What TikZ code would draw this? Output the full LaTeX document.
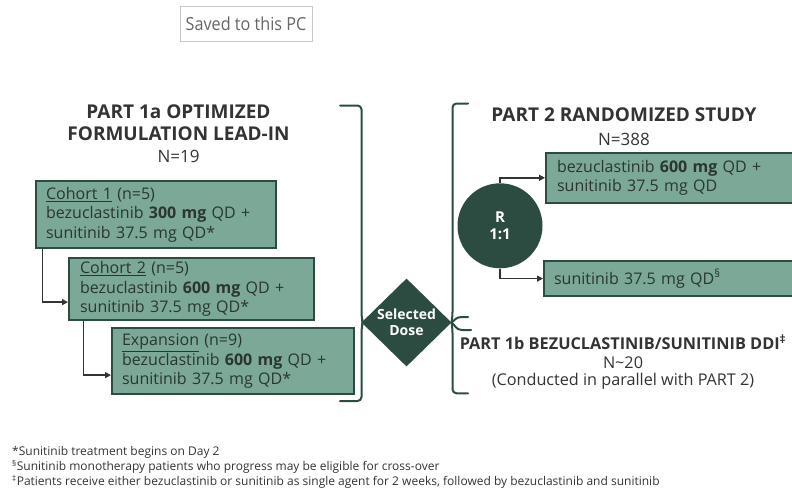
\documentclass[tikz,border=0pt]{standalone}
\usepackage{fontspec}
\setmainfont{Open Sans}
\newfontfamily\tabfont[FakeStretch=0.9]{Open Sans}
\usetikzlibrary{arrows.meta,shapes.geometric,calc}
\definecolor{dkg}{HTML}{2C4C41}
\definecolor{boxg}{HTML}{7BA897}
\definecolor{txt}{HTML}{2B3631}
\definecolor{ttl}{HTML}{333333}
\begin{document}
\begin{tikzpicture}[x=1pt,y=-1pt,
  armbox/.style={draw=dkg, line width=2.2pt, fill=boxg, text=txt, align=left,
    font=\fontsize{16}{19.5}\selectfont, inner xsep=0pt, inner ysep=0pt, anchor=north west},
  ttlnode/.style={text=ttl, font=\fontsize{19}{21}\selectfont\bfseries, anchor=base, inner sep=0pt},
  subnode/.style={text=ttl, font=\fontsize{17}{21}\selectfont, anchor=base, inner sep=0pt},
  ttlsmall/.style={text=ttl, font=\fontsize{16.3}{20}\selectfont\bfseries, anchor=base, inner sep=0pt},
  subsmall/.style={text=ttl, font=\fontsize{16.2}{20}\selectfont, anchor=base, inner sep=0pt},
  brk/.style={draw=dkg, line width=2pt, line cap=round},
  conn/.style={draw=ttl, line width=1.4pt, -{Triangle[length=6pt,width=6pt]}},
  footn/.style={text=ttl, font=\fontsize{12}{15}\selectfont, anchor=base west, inner sep=0pt}
]
\useasboundingbox (0,0) rectangle (792,490);

% header tab
\node[draw=black!22, line width=0.8pt, minimum width=132pt, minimum height=35pt,
      text=black!60, font=\tabfont\fontsize{18}{20}\selectfont, inner sep=0pt] (saved) at (246,23.5) {Saved to this PC};

% Part 1a title
\node[ttlnode] (t1a) at (178.5,118.3) {PART 1a OPTIMIZED};
\node[ttlnode] (t1b) at (178.5,140.7) {FORMULATION LEAD-IN};
\node[subnode] (t1n) at (178.5,162) {N=19};

% cohort boxes
\node[armbox, minimum width=240pt, minimum height=67pt, text width=220pt, inner xsep=10pt] (c1) at (35,180)
 {\underline{Cohort 1} (n=5)\\bezuclastinib \textbf{300 mg} QD +\\sunitinib 37.5 mg QD*};
\node[armbox, minimum width=245pt, minimum height=62pt, text width=223pt, inner xsep=11pt] (c2) at (68,257)
 {\underline{Cohort 2} (n=5)\\bezuclastinib \textbf{600 mg} QD +\\sunitinib 37.5 mg QD*};
\node[armbox, minimum width=242pt, minimum height=66pt, text width=222pt, inner xsep=10pt] (c3) at (111,327)
 {\underline{Expansion} (n=9)\\bezuclastinib \textbf{600 mg} QD +\\sunitinib 37.5 mg QD*};

\draw[conn] ($(c1.south west)+(7.7,0)$) |- ($(c2.west)+(0,13)$);
\draw[conn] ($(c2.south west)+(15.3,0)$) |- ($(c3.west)+(0,14)$);

% left bracket
\draw[brk, rounded corners=4pt] (340,105.5) -- (361.5,105.5) -- (361.5,317) -- (363,322.5) -- (361.5,328) -- (361.5,401) -- (340,401);

% diamond
\node[diamond, fill=dkg, minimum width=90pt, minimum height=88pt, inner sep=0pt, align=center,
      text=white, font=\fontsize{14}{16}\selectfont\bfseries] (dose) at (406.5,322.5) {Selected\\Dose};

% right brackets
\draw[brk, rounded corners=4pt] (468,103.5) -- (452.5,103.5) -- (452.5,316) -- (451.5,322.5);
\draw[brk] (451.5,322.5) .. controls (455,320) and (456,317) .. (462,317) -- (468,317);
\draw[brk] (451.5,322.5) .. controls (455,325) and (456,330) .. (462,330) -- (471,330);
\draw[brk, rounded corners=4pt] (451.5,322.5) -- (452.5,329) -- (452.5,393.3) -- (468,393.3);

% Part 2
\node[ttlnode] (t2) at (624,121.7) {PART 2 RANDOMIZED STUDY};
\node[subnode] (t2n) at (624,145) {N=388};

\node[circle, fill=dkg, minimum size=85pt, inner sep=0pt, align=center,
      text=white, font=\fontsize{15}{17}\selectfont\bfseries] (rand) at (500,225.8) {R\\1:1};

\node[armbox, minimum width=245pt, minimum height=50pt, text width=234pt, inner xsep=11pt] (pa) at (545,151.7)
 {bezuclastinib \textbf{600 mg} QD +\\sunitinib 37.5 mg QD};
\node[armbox, minimum width=247pt, minimum height=35pt, text width=237pt, inner xsep=10pt] (pb) at (543,260)
 {sunitinib 37.5 mg QD\textsuperscript{§}};

\draw[conn] (rand.north) |- (pa.west);
\draw[conn] (rand.south) |- (pb.west);

% Part 1b
\node[ttlsmall] (t3) at (623,349.3) {PART 1b BEZUCLASTINIB/SUNITINIB DDI\textsuperscript{‡}};
\node[subsmall] (t3n) at (623,368.3) {N\textasciitilde 20};
\node[subsmall] (t3c) at (623,385) {(Conducted in parallel with PART 2)};

% footnotes
\node[footn] (f1) at (12,455.5) {*Sunitinib treatment begins on Day 2};
\node[footn] (f2) at (12,470.5) {\textsuperscript{§}Sunitinib monotherapy patients who progress may be eligible for cross-over};
\node[footn] (f3) at (12,485.5) {\textsuperscript{‡}Patients receive either bezuclastinib or sunitinib as single agent for 2 weeks, followed by bezuclastinib and sunitinib};
\end{tikzpicture}
\end{document}
